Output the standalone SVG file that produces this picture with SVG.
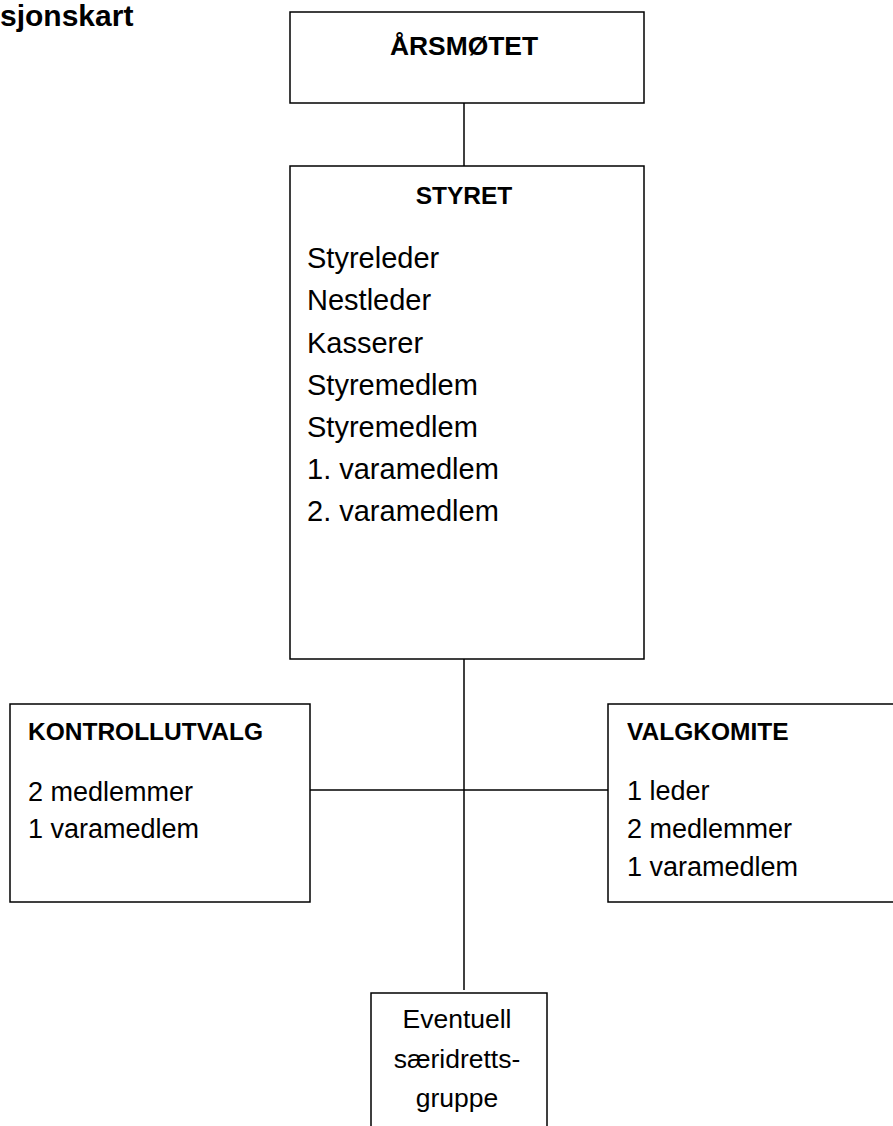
<svg xmlns="http://www.w3.org/2000/svg" width="893" height="1126" viewBox="0 0 893 1126">
<style>
.box{fill:#fff;stroke:#000;stroke-width:1.5}
.ln{stroke:#000;stroke-width:1.5;fill:none}
text{font-family:"Liberation Sans",Arial,sans-serif;fill:#000}
.b{font-weight:bold}
.t{font-size:29px}
.s{font-size:27px}
.h{font-size:24.5px}
.c{text-anchor:middle}
</style>
<rect width="893" height="1126" fill="#fff"/>
<text class="b" x="0" y="26" font-size="30">sjonskart</text>
<g id="connectors">
<line class="ln" x1="464" y1="103" x2="464" y2="166"/>
<line class="ln" x1="464" y1="659" x2="464" y2="990"/>
<line class="ln" x1="310" y1="790" x2="608" y2="790"/>
</g>
<g id="arsmotet">
<rect class="box" x="290" y="12" width="354" height="91"/>
<text class="b c" x="464" y="55" font-size="26.4">ÅRSMØTET</text>
</g>
<g id="styret">
<rect class="box" x="290" y="166" width="354" height="493"/>
<text class="b c h" x="464" y="204">STYRET</text>
<text class="t" x="307" y="268">Styreleder</text>
<text class="t" x="307" y="310">Nestleder</text>
<text class="t" x="307" y="353">Kasserer</text>
<text class="t" x="307" y="395">Styremedlem</text>
<text class="t" x="307" y="437">Styremedlem</text>
<text class="t" x="307" y="479">1. varamedlem</text>
<text class="t" x="307" y="521">2. varamedlem</text>
</g>
<g id="kontrollutvalg">
<rect class="box" x="10" y="704" width="300" height="198"/>
<text class="b h" x="28" y="740" font-size="23.7">KONTROLLUTVALG</text>
<text class="s" x="28" y="801">2 medlemmer</text>
<text class="s" x="28" y="838">1 varamedlem</text>
</g>
<g id="valgkomite">
<rect class="box" x="608" y="704" width="300" height="198"/>
<text class="b h" x="627" y="740">VALGKOMITE</text>
<text class="s" x="627" y="800">1 leder</text>
<text class="s" x="627" y="838">2 medlemmer</text>
<text class="s" x="627" y="876">1 varamedlem</text>
</g>
<g id="saeridrettsgruppe">
<rect class="box" x="371" y="993" width="176" height="150"/>
<text class="c" x="457" y="1028" font-size="26.5">Eventuell</text>
<text class="c" x="457" y="1068" font-size="26.5">særidretts-</text>
<text class="c" x="457" y="1107" font-size="26.5">gruppe</text>
</g>
</svg>
